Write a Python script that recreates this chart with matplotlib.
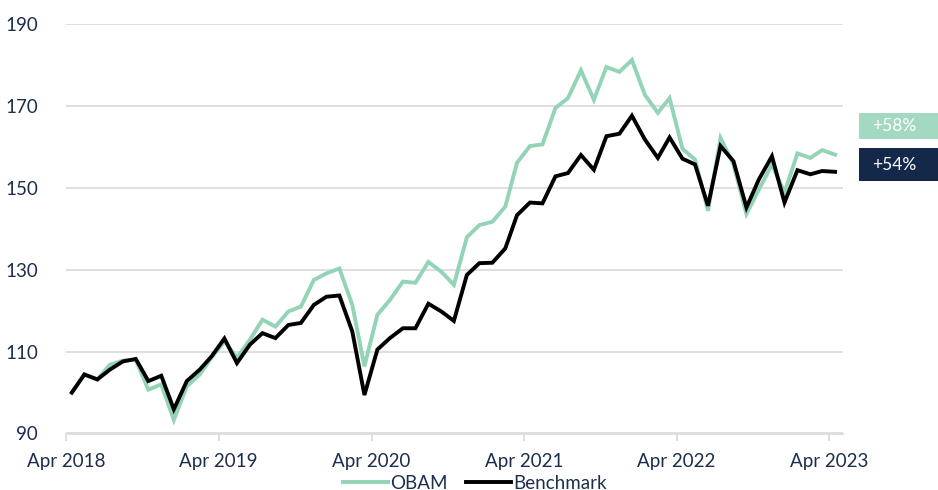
import matplotlib
matplotlib.use("Agg")
import matplotlib.pyplot as plt
import matplotlib.dates as mdates
from matplotlib.patches import Rectangle
import pandas as pd

plt.rcParams['font.family'] = ['Lato', 'DejaVu Sans']

# ---- data ----
start_month = "2018-04-01"
obam = [100, 104.5, 103.2, 106.8, 107.8, 108.0, 100.7, 102.0, 93.3, 101.5, 104.4, 108.5, 112.5,
        108.5, 112.9, 117.8, 116.1, 119.8, 121.0, 127.5, 129.1, 130.3, 121.4, 106.4, 119.0,
        122.6, 127.1, 126.8, 131.9, 129.5, 126.3, 137.9, 140.9, 141.7, 145.4, 156.1, 160.2,
        160.6, 169.5, 171.9, 178.7, 171.5, 179.5, 178.3, 181.2, 172.7, 168.3, 171.9, 159.5,
        156.9, 144.4, 162.2, 155.7, 143.6, 149.6, 155.7, 148.8, 158.4, 157.3, 159.2, 158.1]
benchmark = [100, 104.4, 103.2, 105.6, 107.6, 108.2, 102.8, 104.1, 95.9, 102.8, 105.6, 108.8, 113.2,
             107.2, 111.7, 114.5, 113.3, 116.5, 117.0, 121.4, 123.4, 123.7, 114.9, 99.4, 110.5,
             113.3, 115.7, 115.7, 121.7, 119.8, 117.5, 128.7, 131.6, 131.7, 135.2, 143.3, 146.4,
             146.2, 152.8, 153.6, 158.0, 154.4, 162.6, 163.2, 167.6, 161.8, 157.3, 162.3, 157.1,
             155.7, 145.6, 160.2, 156.5, 145.2, 152.1, 157.7, 146.4, 154.3, 153.3, 154.1, 153.9]
series_names = ["OBAM", "Benchmark"]
tick_years = [2018, 2019, 2020, 2021, 2022, 2023]
tick_labels = ["Apr 2018", "Apr 2019", "Apr 2020", "Apr 2021", "Apr 2022", "Apr 2023"]
y_ticks = [90, 110, 130, 150, 170, 190]

# ---- styles ----
GREEN = "#93d3b6"
GREEN_BOX = "#a2d9c0"
NAVY = "#14294a"
TEXT = "#1c2e4c"
GRID = "#dcdcdc"

dates = pd.date_range(start_month, periods=len(obam), freq="MS") + pd.Timedelta(days=14)
tick_dates = [pd.Timestamp(f"{y}-04-01") for y in tick_years]

fig = plt.figure(figsize=(9.38, 4.90), dpi=100)
ax = fig.add_axes([66 / 938, 1 - 433.5 / 490, (843 - 66) / 938, (433.5 - 24) / 490])

ax.plot(dates, obam, color=GREEN, lw=2.8, label=series_names[0], solid_joinstyle="miter", zorder=3)
ax.plot(dates, benchmark, color="black", lw=2.8, label=series_names[1], solid_joinstyle="miter", zorder=4)

ax.set_ylim(90, 190)
ax.set_xlim(pd.Timestamp("2018-04-01"), pd.Timestamp("2023-05-04"))
ax.set_yticks(y_ticks)
ax.set_xticks(tick_dates)
ax.set_xticklabels(tick_labels)

ax.grid(axis="y", color=GRID, lw=1.3, zorder=0)
for s in ["top", "right", "left"]:
    ax.spines[s].set_visible(False)
ax.spines["bottom"].set_color(GRID)
ax.spines["bottom"].set_linewidth(1.3)
ax.tick_params(axis="y", length=0, pad=20, labelsize=13.5, labelcolor=TEXT)
ax.tick_params(axis="x", length=5, width=1.3, color=GRID, pad=9, labelsize=13.5, labelcolor=TEXT)

# end-value labels
labels_info = [
    (obam, GREEN_BOX, 112.7, 139.3),
    (benchmark, NAVY, 148.3, 180.7),
]
for vals, col, ytop, ybot in labels_info:
    x0 = 859 / 938
    y0 = 1 - ybot / 490
    h = (ybot - ytop) / 490
    fig.patches.append(Rectangle((x0, y0), 1 - x0 + 0.01, h, transform=fig.transFigure,
                                 facecolor=col, edgecolor="none", zorder=5))
    fig.text(872 / 938, y0 + h / 2, f"+{vals[-1] - 100:.0f}%", color="white",
             fontsize=12.5, va="center", ha="left", zorder=6)

leg = fig.legend(loc="center", bbox_to_anchor=(475 / 938, 1 - 483 / 490), ncol=2, frameon=False,
                 fontsize=13.5, handlelength=2.4, handletextpad=0.1, columnspacing=1.0,
                 borderpad=0, borderaxespad=0)
for t in leg.get_texts():
    t.set_color(TEXT)

fig.savefig("out.png", dpi=100)
